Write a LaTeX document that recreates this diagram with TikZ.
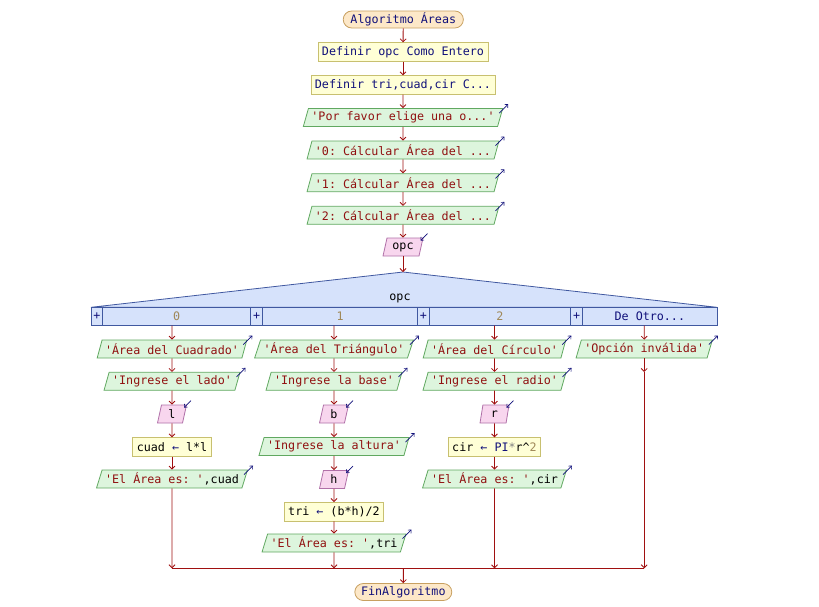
\documentclass[tikz,border=0pt]{standalone}
\usepackage{fontspec}
\setmonofont{DejaVu Sans Mono}
\usetikzlibrary{shapes.geometric,shapes.misc,arrows.meta}
\definecolor{kw}{HTML}{10107A}
\definecolor{str}{HTML}{901010}
\definecolor{num}{HTML}{A08858}
\definecolor{arrC}{HTML}{A01010}
\definecolor{termF}{HTML}{FDE8C8}
\definecolor{termB}{HTML}{C8A060}
\definecolor{procF}{HTML}{FFFFD6}
\definecolor{procB}{HTML}{C8C070}
\definecolor{outF}{HTML}{DDF5DD}
\definecolor{outB}{HTML}{60A860}
\definecolor{inF}{HTML}{F8D6EE}
\definecolor{inB}{HTML}{B070A8}
\definecolor{swF}{HTML}{D6E2FB}
\definecolor{swB}{HTML}{4058A0}
\tikzset{
  txt/.style={font=\ttfamily\fontsize{11.7}{12}\selectfont},
  base/.style={txt, minimum height=18pt, inner ysep=0pt, inner xsep=4pt, line width=0.8pt},
  term/.style={base, rounded rectangle, draw=termB, fill=termF, minimum height=17pt},
  proc/.style={base, rectangle, draw=procB, fill=procF, minimum height=18.5pt},
  outp/.style={base, trapezium, trapezium left angle=66, trapezium right angle=114, trapezium stretches body, draw=outB, fill=outF, inner xsep=3pt},
  inp/.style={base, trapezium, trapezium left angle=66, trapezium right angle=114, trapezium stretches body, draw=inB, fill=inF, inner xsep=3pt, minimum width=29pt},
  cell/.style={txt, rectangle, draw=swB, fill=swF, line width=0.8pt, minimum height=18pt, inner sep=0pt},
  flow/.style={draw=arrC, line width=0.9pt, -{Straight Barb[length=3pt,width=6pt,line width=0.8pt]}},
  plain/.style={draw=arrC, line width=0.9pt},
  carr/.style={draw=kw, line width=0.7pt, -{Straight Barb[length=2.5pt,width=4.5pt,line width=0.6pt]}},
}
\newcommand{\outarr}[1]{\draw[carr] ([shift={(-4pt,-5pt)}]#1.top right corner) -- ([shift={(5pt,4pt)}]#1.top right corner);}
\newcommand{\inarr}[1]{\draw[carr] ([shift={(4pt,4pt)}]#1.top right corner) -- ([shift={(-3pt,-3pt)}]#1.top right corner);}
\begin{document}
\begin{tikzpicture}[x=1pt,y=1pt]
\useasboundingbox (0,0) rectangle (819,-606);
% main column
\node[term] (t) at (403.3,-19.5) {\color{kw}Algoritmo Áreas};
\node[proc] (d1) at (403,-52) {\color{kw}Definir opc Como Entero};
\node[proc] (d2) at (403,-85) {\color{kw}Definir tri,cuad,cir C...};
\node[outp] (o1) at (403,-117.5) {\color{str}'Por favor elige una o...'};
\node[outp] (o2) at (403,-150) {\color{str}'0: Cálcular Área del ...};
\node[outp] (o3) at (403,-182.7) {\color{str}'1: Cálcular Área del ...};
\node[outp] (o4) at (403,-215.3) {\color{str}'2: Cálcular Área del ...};
\node[inp, minimum width=40pt] (opc) at (403,-247) {opc};
\coordinate (ap) at (403,-272);
\outarr{o1}\outarr{o2}\outarr{o3}\outarr{o4}\inarr{opc}
\draw[flow] (t) -- (d1);
\draw[flow] (d1) -- (d2);
\draw[flow] (d2) -- (o1);
\draw[flow] (o1) -- (o2);
\draw[flow] (o2) -- (o3);
\draw[flow] (o3) -- (o4);
\draw[flow] (o4) -- (opc);
% switch
\filldraw[draw=swB, fill=swF, line width=0.8pt] (91,-307.3) -- (ap) -- (717,-307.3) -- cycle;
\draw[flow] (opc) -- (ap);
\node[txt] (swl) at (400,-298) {opc};
\node[cell, minimum width=11.7pt] (q0) at (96.8,-316.3) {\color{kw}+};
\node[cell, minimum width=148pt] (k0) at (176.7,-316.3) {\color{num}0};
\node[cell, minimum width=12pt] (q1) at (256.7,-316.3) {\color{kw}+};
\node[cell, minimum width=155pt] (k1) at (340.2,-316.3) {\color{num}1};
\node[cell, minimum width=11.6pt] (q2) at (423.5,-316.3) {\color{kw}+};
\node[cell, minimum width=141.4pt] (k2) at (500,-316.3) {\color{num}2};
\node[cell, minimum width=12pt] (q3) at (576.7,-316.3) {\color{kw}+};
\node[cell, minimum width=134.3pt] (k3) at (649.85,-316.3) {\color{kw}De Otro...};
% column 0
\node[outp] (x0a) at (172,-349) {\color{str}'Área del Cuadrado'};
\node[outp] (x0b) at (172,-381.3) {\color{str}'Ingrese el lado'};
\node[inp] (x0c) at (172,-414) {l};
\node[proc] (x0d) at (172,-447) {cuad {\color{kw}←} l*l};
\node[outp] (x0e) at (172,-479) {\color{str}'El Área es: '\color{black},cuad};
\outarr{x0a}\outarr{x0b}\inarr{x0c}\outarr{x0e}
% column 1
\node[outp] (x1a) at (334,-349) {\color{str}'Área del Triángulo'};
\node[outp] (x1b) at (334,-381.3) {\color{str}'Ingrese la base'};
\node[inp] (x1c) at (334,-414) {b};
\node[outp] (x1d) at (334,-446.5) {\color{str}'Ingrese la altura'};
\node[inp] (x1e) at (334,-479.5) {h};
\node[proc] (x1f) at (334,-511.7) {tri {\color{kw}←} (b*h)/2};
\node[outp] (x1g) at (334,-543) {\color{str}'El Área es: '\color{black},tri};
\outarr{x1a}\outarr{x1b}\inarr{x1c}\outarr{x1d}\inarr{x1e}\outarr{x1g}
% column 2
\node[outp] (x2a) at (494.5,-349) {\color{str}'Área del Círculo'};
\node[outp] (x2b) at (494.5,-381.3) {\color{str}'Ingrese el radio'};
\node[inp] (x2c) at (494.5,-414) {r};
\node[proc] (x2d) at (494.5,-447) {cir {\color{kw}← PI}{\color{gray}*}r\string^{\color{num}2}};
\node[outp] (x2e) at (494.5,-479) {\color{str}'El Área es: '\color{black},cir};
\outarr{x2a}\outarr{x2b}\inarr{x2c}\outarr{x2e}
% column 3
\node[outp] (x3a) at (644.2,-349) {\color{str}'Opción inválida'};
\outarr{x3a}
% flows in columns
\draw[flow] (k0.south -| x0a) -- (x0a);
\draw[flow] (x0a) -- (x0b);
\draw[flow] (x0b) -- (x0c);
\draw[flow] (x0c) -- (x0d);
\draw[flow] (x0d) -- (x0e);
\draw[flow] (k1.south -| x1a) -- (x1a);
\draw[flow] (x1a) -- (x1b);
\draw[flow] (x1b) -- (x1c);
\draw[flow] (x1c) -- (x1d);
\draw[flow] (x1d) -- (x1e);
\draw[flow] (x1e) -- (x1f);
\draw[flow] (x1f) -- (x1g);
\draw[flow] (k2.south -| x2a) -- (x2a);
\draw[flow] (x2a) -- (x2b);
\draw[flow] (x2b) -- (x2c);
\draw[flow] (x2c) -- (x2d);
\draw[flow] (x2d) -- (x2e);
\draw[flow] (k3.south -| x3a) -- (x3a);
% merge
\coordinate (j0) at (172,-568.3);
\coordinate (j1) at (334,-568.3);
\coordinate (j2) at (494.5,-568.3);
\coordinate (j3) at (644.2,-568.3);
\coordinate (jm) at (403.3,-568.3);
\coordinate (m3) at (644.2,-372);
\node[term] (fin) at (403.3,-592) {\color{kw}FinAlgoritmo};
\draw[flow] (x0e) -- (j0);
\draw[flow] (x1g) -- (j1);
\draw[flow] (x2e) -- (j2);
\draw[flow] (x3a) -- (m3);
\draw[flow] (m3) -- (j3);
\draw[plain] (j0) -- (j3);
\draw[flow] (jm) -- (fin);
\end{tikzpicture}
\end{document}
